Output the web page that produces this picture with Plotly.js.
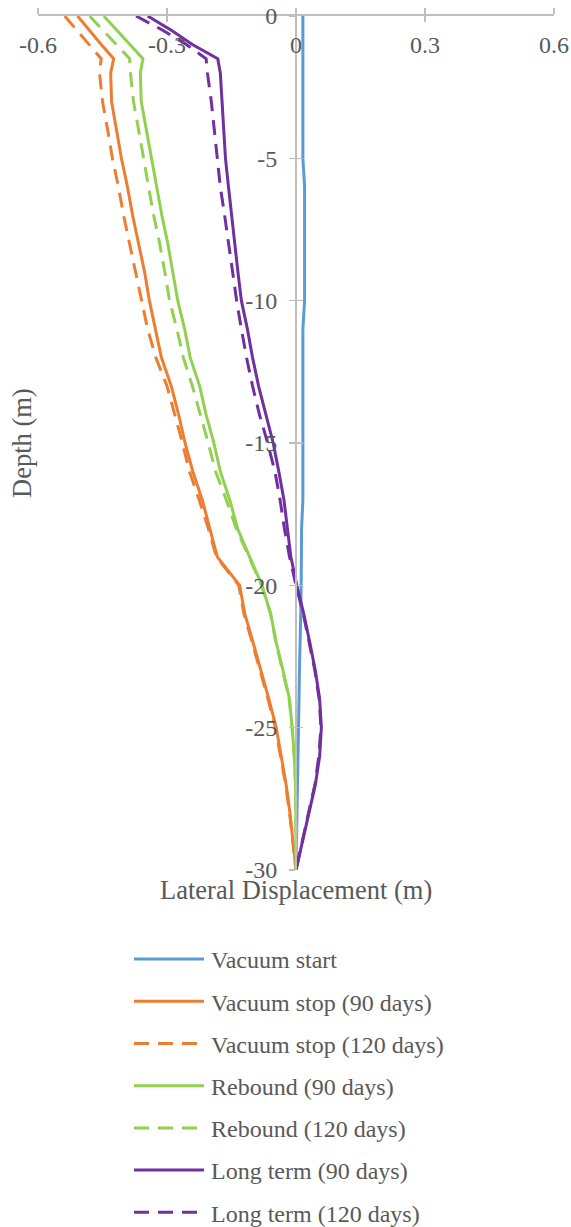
<!DOCTYPE html>
<html><head><meta charset="utf-8">
<script src="https://cdn.plot.ly/plotly-3.0.1.min.js"></script>
<style>html,body{margin:0;padding:0;background:#fff}#chart{width:571px;height:1227px}</style>
</head><body><div id="chart"></div>
<script>
// Depth (m), negative downward
const depth = [0,-0.5,-1,-1.5,-2,-3,-4,-5,-6,-7,-8,-9,-10,-11,-12,-13,-14,-15,-16,-17,-18,-19,-20,-21,-22,-23,-24,-25,-26,-27,-28,-29,-30];
// Lateral displacement (m)
const vacuumStart = [0.016,0.016,0.016,0.016,0.016,0.016,0.016,0.016,0.020,0.020,0.020,0.020,0.020,0.016,0.016,0.016,0.016,0.016,0.016,0.016,0.013,0.013,0.012,0.011,0.009,0.008,0.007,0.006,0.005,0.004,0.003,0.002,0];
const vacuumStop90 = [-0.508,-0.481,-0.453,-0.424,-0.431,-0.429,-0.417,-0.406,-0.392,-0.380,-0.366,-0.352,-0.341,-0.327,-0.313,-0.290,-0.273,-0.258,-0.240,-0.218,-0.201,-0.183,-0.131,-0.119,-0.100,-0.081,-0.063,-0.046,-0.034,-0.023,-0.014,-0.007,0];
const vacuumStop120 = [-0.538,-0.510,-0.481,-0.453,-0.457,-0.450,-0.438,-0.427,-0.413,-0.401,-0.387,-0.373,-0.360,-0.345,-0.326,-0.300,-0.282,-0.264,-0.248,-0.225,-0.204,-0.185,-0.133,-0.121,-0.102,-0.083,-0.065,-0.048,-0.036,-0.024,-0.015,-0.008,0];
const rebound90 = [-0.447,-0.417,-0.385,-0.356,-0.362,-0.360,-0.348,-0.336,-0.324,-0.312,-0.298,-0.287,-0.275,-0.259,-0.246,-0.224,-0.209,-0.191,-0.176,-0.154,-0.136,-0.108,-0.079,-0.059,-0.046,-0.030,-0.015,-0.009,-0.004,-0.001,0,0,0];
const rebound120 = [-0.480,-0.449,-0.417,-0.387,-0.385,-0.378,-0.366,-0.355,-0.343,-0.331,-0.317,-0.305,-0.294,-0.277,-0.262,-0.241,-0.222,-0.204,-0.187,-0.162,-0.139,-0.110,-0.080,-0.059,-0.047,-0.031,-0.016,-0.009,-0.004,-0.001,0,0,0];
const longTerm90 = [-0.345,-0.290,-0.241,-0.182,-0.176,-0.172,-0.169,-0.164,-0.157,-0.150,-0.143,-0.135,-0.127,-0.113,-0.101,-0.087,-0.070,-0.053,-0.040,-0.028,-0.020,-0.012,0.002,0.018,0.032,0.045,0.055,0.059,0.055,0.045,0.030,0.015,0];
const longTerm120 = [-0.372,-0.310,-0.255,-0.209,-0.206,-0.197,-0.190,-0.183,-0.176,-0.166,-0.157,-0.147,-0.138,-0.127,-0.115,-0.101,-0.085,-0.066,-0.049,-0.037,-0.027,-0.015,0.000,0.017,0.031,0.044,0.054,0.058,0.053,0.044,0.029,0.015,0];

const seriesNames = ['Vacuum start','Vacuum stop (90 days)','Vacuum stop (120 days)','Rebound (90 days)','Rebound (120 days)','Long term (90 days)','Long term (120 days)'];
const xTickVals = [-0.6,-0.3,0,0.3,0.6];
const xTickText = ['-0.6','-0.3','0','0.3','0.6'];
const yTickVals = [-30,-25,-20,-15,-10,-5,0];
const yTickText = ['-30','-25','-20','-15','-10','-5','0'];

const FONT = '"Times New Roman", "Liberation Serif", serif';
const TXT = '#595959';
const AX = '#BFBFBF';
const DASH = '15px,9px';

const seriesVals = [vacuumStart, vacuumStop90, vacuumStop120, rebound90, rebound120, longTerm90, longTerm120];
const colors = ['#5B9BD5','#ED7D31','#ED7D31','#92D050','#92D050','#7030A0','#7030A0'];
const dashes = ['solid','solid',DASH,'solid',DASH,'solid',DASH];

const traces = seriesVals.map((v, i) => ({
  type: 'scatter', mode: 'lines', x: v, y: depth, name: seriesNames[i],
  legendgroup: 'g' + i,
  line: {color: colors[i], width: 3, dash: dashes[i]},
  hoverinfo: 'skip'
}));
// empty helper traces so the overlay axes (crossing tick marks, tick labels) get drawn
traces.push({type:'scatter', mode:'lines', x:[], y:[], xaxis:'x2', yaxis:'y', showlegend:false, hoverinfo:'skip'});
traces.push({type:'scatter', mode:'lines', x:[], y:[], xaxis:'x3', yaxis:'y', showlegend:false, hoverinfo:'skip'});
traces.push({type:'scatter', mode:'lines', x:[], y:[], xaxis:'x', yaxis:'y2', showlegend:false, hoverinfo:'skip'});

const common = {showgrid:false, zeroline:false, automargin:false, fixedrange:true, tickcolor:AX, tickwidth:1.5, ticklen:6};

const layout = {
  width: 571, height: 1227,
  margin: {l: 38, r: 17, t: 16, b: 357, autoexpand: false},
  paper_bgcolor: '#ffffff', plot_bgcolor: '#ffffff',
  font: {family: FONT, color: TXT, size: 24},
  showlegend: true,
  xaxis: Object.assign({}, common, {
    range: [-0.6, 0.6], side: 'top', anchor: 'y',
    tickmode: 'array', tickvals: xTickVals, ticks: 'outside',
    showticklabels: false, showline: true, linecolor: AX, linewidth: 2
  }),
  xaxis2: Object.assign({}, common, {
    range: [-0.6, 0.6], side: 'top', anchor: 'y', overlaying: 'x',
    tickmode: 'array', tickvals: xTickVals, ticks: 'inside',
    showticklabels: false, showline: false
  }),
  xaxis3: Object.assign({}, common, {
    range: [-0.6, 0.6], side: 'bottom', anchor: 'free', position: 1, overlaying: 'x',
    tickmode: 'array', tickvals: xTickVals, ticktext: xTickText, tickangle: 0,
    ticks: '', ticklabelstandoff: 12, showline: false,
    tickfont: {family: FONT, size: 24, color: TXT}
  }),
  yaxis: Object.assign({}, common, {
    range: [-30, 0], anchor: 'free', position: 0.5, side: 'left',
    tickmode: 'array', tickvals: yTickVals, ticktext: yTickText,
    ticks: 'outside', ticklabelstandoff: 7,
    showline: true, linecolor: AX, linewidth: 2,
    tickfont: {family: FONT, size: 24, color: TXT}
  }),
  yaxis2: Object.assign({}, common, {
    range: [-30, 0], anchor: 'free', position: 0.5, side: 'left', overlaying: 'y',
    tickmode: 'array', tickvals: yTickVals, ticks: 'inside',
    showticklabels: false, showline: false
  }),
  legend: {
    xref: 'container', yref: 'container', x: 131/571, y: 1 - 937/1227,
    xanchor: 'left', yanchor: 'top', orientation: 'v',
    traceorder: 'grouped', tracegroupgap: 8, itemwidth: 70,
    bgcolor: 'rgba(0,0,0,0)', borderwidth: 0,
    font: {family: FONT, size: 24, color: TXT}
  },
  annotations: [
    {text: 'Depth (m)', xref: 'paper', yref: 'paper', x: (22-38)/516, y: 0.5,
     xanchor: 'center', yanchor: 'middle', textangle: -90, showarrow: false,
     font: {family: FONT, size: 26.5, color: TXT}},
    {text: 'Lateral Displacement (m)', xref: 'paper', yref: 'paper', x: 0.5, y: (870-890)/854,
     xanchor: 'center', yanchor: 'middle', showarrow: false,
     font: {family: FONT, size: 26.5, color: TXT}}
  ]
};

Plotly.newPlot('chart', traces, layout, {staticPlot: true, displayModeBar: false}).then(gd => {
  gd.querySelectorAll('.legend g.legendlines path').forEach(p => p.setAttribute('d', 'M3,0h70'));
});
</script>
</body></html>
